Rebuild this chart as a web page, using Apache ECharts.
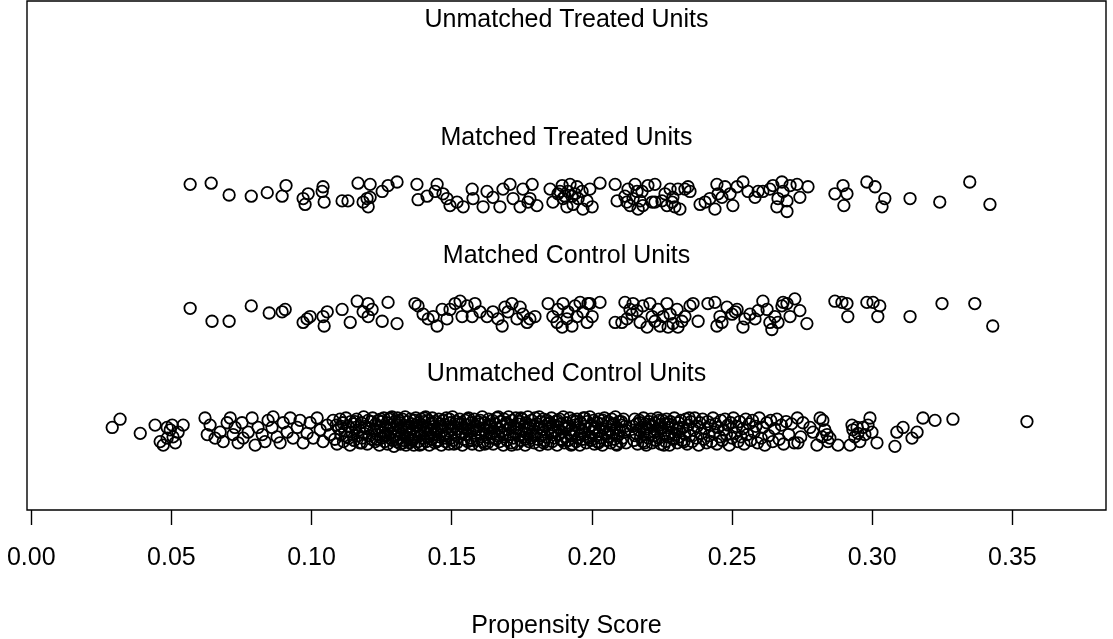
<!DOCTYPE html>
<html>
<head>
<meta charset="utf-8">
<script src="https://cdn.jsdelivr.net/npm/echarts@6/dist/echarts.min.js"></script>
<style>html,body{margin:0;padding:0;background:#fff}#c{width:1113px;height:639px}</style>
</head>
<body>
<div id="c"></div>
<script>
// ---- data (propensity score, vertical jitter) ----
const rowLabels = ['Unmatched Treated Units', 'Matched Treated Units', 'Matched Control Units', 'Unmatched Control Units'];
const rowLevels = [4, 3, 2, 1];
const xTicks = [0.00, 0.05, 0.10, 0.15, 0.20, 0.25, 0.30, 0.35];
const xTitle = 'Propensity Score';

const unmatchedTreated = [];

const matchedTreated = [
[0.0567,0.09],[0.0642,0.10],[0.0706,0.00],[0.0785,-0.01],[0.0842,0.02],[0.0895,-0.01],[0.0909,0.08],[0.0970,-0.03],[0.0977,-0.08],[0.0988,0.01],
[0.1038,0.03],[0.1045,-0.06],[0.1041,0.07],[0.1109,-0.05],[0.1130,-0.05],[0.1166,0.10],[0.1209,0.09],[0.1184,-0.06],[0.1198,-0.03],[0.1202,-0.10],
[0.1209,-0.02],[0.1252,0.03],[0.1273,0.08],[0.1305,0.11],[0.1376,0.09],[0.1380,-0.04],[0.1412,-0.01],[0.1448,0.09],[0.1441,0.03],[0.1469,0.01],
[0.1483,-0.03],[0.1494,-0.09],[0.1519,-0.06],[0.1541,-0.10],[0.1573,0.05],[0.1576,-0.03],[0.1612,-0.10],[0.1626,0.03],[0.1647,-0.02],[0.1672,-0.10],
[0.1683,0.05],[0.1708,0.09],[0.1719,-0.03],[0.1744,-0.10],[0.1754,0.05],[0.1772,-0.06],[0.1779,-0.03],[0.1787,0.09],[0.1804,-0.09],
[0.1851,0.05],[0.1861,-0.06],[0.1879,0.01],[0.1894,0.08],[0.1897,-0.03],[0.1911,-0.10],[0.1915,0.03],[0.1929,-0.01],[0.1933,-0.08],[0.1947,0.07],
[0.1951,-0.03],[0.1965,0.03],[0.1968,-0.12],[0.1983,-0.05],[0.1886,0.03],[0.1922,0.09],[0.1940,0.01],[0.1904,-0.01],
[0.1993,0.05],[0.2001,-0.10],[0.2029,0.10],[0.2083,0.09],[0.2090,-0.05],[0.2118,-0.01],[0.2125,-0.06],[0.2129,0.05],[0.2136,-0.09],[0.2147,-0.03],
[0.2154,0.09],[0.2161,0.03],[0.2165,-0.12],[0.2172,-0.05],[0.2179,0.03],[0.2182,-0.09],[0.2200,0.08],[0.2225,0.09],[0.2215,-0.06],[0.2225,-0.06],
[0.2250,-0.05],[0.2261,0.01],[0.2268,-0.09],[0.2279,0.05],[0.2286,-0.06],[0.2289,-0.02],[0.2296,-0.10],[0.2307,0.05],[0.2314,-0.12],[0.2332,0.05],
[0.2343,0.07],[0.2350,0.03],[0.2386,-0.08],[0.2404,-0.06],[0.2421,-0.03],[0.2439,-0.12],[0.2446,0.09],[0.2450,0.01],[0.2464,-0.02],[0.2475,0.07],
[0.2493,0.01],[0.2503,-0.09],[0.2518,0.07],[0.2539,0.11],[0.2557,0.03],[0.2582,-0.02],[0.2593,0.03],[0.2610,0.03],[0.2635,0.05],[0.2646,0.08],
[0.2660,-0.10],[0.2664,-0.03],[0.2678,0.11],[0.2682,0.03],[0.2696,-0.05],[0.2696,-0.14],[0.2707,0.08],[0.2732,0.09],[0.2742,-0.02],[0.2771,0.07],
[0.2867,0.01],[0.2896,0.08],[0.2910,0.01],[0.2899,-0.09],[0.2981,0.11],[0.3010,0.07],[0.3045,-0.03],[0.3035,-0.10],[0.3135,-0.03],[0.3241,-0.06],
[0.3348,0.11],[0.3420,-0.08]
];

const matchedControl = [
[0.0567,0.04],[0.0645,-0.07],[0.0706,-0.07],[0.0785,0.06],[0.0849,0.00],[0.0895,0.01],[0.0906,0.03],[0.0970,-0.08],[0.0984,-0.05],[0.0995,-0.03],
[0.1041,-0.03],[0.1045,-0.11],[0.1056,0.01],[0.1109,0.03],[0.1138,-0.08],[0.1163,0.10],[0.1184,0.01],[0.1202,0.08],[0.1216,0.03],[0.1202,-0.03],
[0.1252,-0.07],[0.1273,0.09],[0.1305,-0.09],[0.1369,0.08],[0.1380,0.06],[0.1398,-0.01],[0.1416,-0.05],[0.1434,-0.03],[0.1448,-0.11],[0.1466,0.03],
[0.1483,-0.05],[0.1494,0.03],[0.1512,0.08],[0.1530,0.10],[0.1537,-0.03],[0.1555,0.06],[0.1573,-0.03],[0.1583,0.08],[0.1601,0.01],[0.1626,-0.03],
[0.1647,0.01],[0.1665,-0.05],[0.1680,-0.11],[0.1690,0.05],[0.1701,0.01],[0.1715,0.08],[0.1733,-0.05],[0.1744,0.05],[0.1754,-0.01],[0.1769,-0.08],
[0.1779,-0.05],[0.1797,-0.03],[0.1844,0.08],[0.1861,-0.03],[0.1876,-0.08],[0.1879,0.03],[0.1894,-0.12],[0.1897,0.08],[0.1911,-0.05],[0.1915,0.01],
[0.1929,-0.11],[0.1940,0.06],[0.1947,-0.03],[0.1958,0.09],[0.1968,0.01],[0.1983,-0.08],[0.1986,0.08],
[0.1993,0.08],[0.2001,-0.03],[0.2029,0.09],[0.2083,-0.08],[0.2107,-0.08],[0.2118,0.09],[0.2125,-0.05],[0.2136,0.03],[0.2143,-0.01],[0.2147,0.08],
[0.2161,0.02],[0.2172,-0.08],[0.2182,0.06],[0.2197,-0.12],[0.2207,0.08],[0.2215,-0.03],[0.2225,-0.07],[0.2236,0.03],[0.2243,-0.11],[0.2254,-0.03],
[0.2268,0.08],[0.2272,-0.12],[0.2279,-0.01],[0.2289,-0.09],[0.2304,0.03],[0.2307,-0.12],[0.2321,-0.07],[0.2332,-0.03],[0.2350,0.06],[0.2361,0.08],
[0.2379,-0.07],[0.2414,0.08],[0.2439,0.09],[0.2446,-0.11],[0.2457,-0.03],[0.2464,-0.08],[0.2482,0.05],[0.2500,-0.01],[0.2511,0.01],[0.2518,0.03],
[0.2539,-0.12],[0.2546,-0.05],[0.2564,-0.01],[0.2582,-0.05],[0.2593,0.02],[0.2610,0.10],[0.2625,0.03],[0.2635,-0.08],[0.2642,-0.14],[0.2653,-0.03],
[0.2664,-0.08],[0.2678,0.06],[0.2682,0.09],[0.2696,0.08],[0.2707,-0.03],[0.2724,0.12],[0.2742,0.02],[0.2767,-0.09],[0.2867,0.10],[0.2892,0.09],
[0.2910,0.08],[0.2913,-0.03],[0.2981,0.09],[0.3003,0.09],[0.3027,0.06],[0.3020,-0.03],[0.3135,-0.03],[0.3249,0.08],[0.3366,0.08],[0.3430,-0.11]
];

const unmatchedControl = [
[0.0289,0.03],[0.0317,0.10],[0.0389,-0.02],[0.0442,0.05],[0.0460,-0.09],[0.0471,-0.12],[0.0485,-0.06],[0.0485,0.03],[0.0496,0.01],[0.0503,0.05],
[0.0506,-0.05],[0.0514,-0.10],[0.0524,-0.01],[0.0542,0.05],[0.0620,0.11],[0.0628,-0.03],[0.0638,0.05],[0.0656,-0.06],[0.0674,-0.01],[0.0685,-0.09],
[0.0699,0.07],[0.0710,0.11],[0.0720,-0.03],[0.0727,0.03],[0.0738,-0.10],[0.0752,0.07],[0.0756,-0.06],[0.0774,-0.01],[0.0788,0.11],[0.0799,-0.12],
[0.0809,0.03],[0.0824,-0.03],[0.0834,-0.09],[0.0845,0.09],[0.0859,0.03],[0.0863,0.12],[0.0877,-0.05],[0.0888,-0.10],[0.0899,0.07],[0.0913,-0.01],
[0.0924,0.11],[0.0934,-0.06],[0.0949,0.03],[0.0959,0.09],[0.0970,-0.10],[0.0984,-0.02],[0.0995,0.07],[0.1006,-0.06],[0.1020,0.11],[0.1031,0.01],
[0.1041,-0.09],[0.1056,0.05],[0.1066,-0.03],[0.1077,0.09],
[0.1083,-0.07],[0.1088,0.05],[0.1091,-0.11],[0.1097,0.02],[0.1102,0.10],[0.1105,-0.03],[0.1111,0.07],[0.1114,-0.09],[0.1119,0.00],[0.1123,0.11],
[0.1126,-0.05],[0.1131,0.04],[0.1137,-0.12],[0.1140,0.08],[0.1143,-0.01],[0.1149,0.06],[0.1152,-0.08],[0.1158,0.03],[0.1161,0.10],[0.1164,-0.04],
[0.1170,0.01],[0.1172,-0.10],[0.1177,0.07],[0.1181,-0.06],[0.1186,0.12],[0.1188,-0.02],[0.1193,0.04],[0.1199,-0.11],[0.1202,0.09],[0.1206,-0.04],
[0.1210,0.02],[0.1215,-0.07],[0.1218,0.11],[0.1222,0.00],[0.1227,-0.09],[0.1229,0.06],[0.1234,-0.03],[0.1238,0.09],[0.1242,-0.12],[0.1245,0.03],
[0.1249,-0.06],[0.1251,0.08],[0.1254,-0.01],[0.1258,0.11],[0.1261,-0.09],[0.1263,0.04],[0.1266,-0.04],[0.1269,0.07],[0.1271,-0.11],[0.1274,0.01],
[0.1276,0.10],[0.1279,-0.06],[0.1282,0.05],[0.1284,-0.02],[0.1287,0.12],[0.1290,-0.08],[0.1292,0.02],[0.1294,-0.13],[0.1297,0.08],[0.1299,-0.04],
[0.1302,0.05],[0.1304,-0.09],[0.1307,0.11],[0.1309,0.00],[0.1312,-0.06],[0.1314,0.07],[0.1317,-0.11],[0.1319,0.03],[0.1322,-0.02],[0.1324,0.10],
[0.1327,-0.08],[0.1329,0.05],[0.1332,-0.04],[0.1334,0.12],[0.1337,-0.12],[0.1339,0.01],[0.1342,0.08],[0.1344,-0.06],[0.1347,0.04],[0.1350,-0.10],
[0.1352,0.10],[0.1355,-0.02],[0.1357,0.06],[0.1360,-0.08],[0.1362,0.02],[0.1365,-0.12],[0.1367,0.09],[0.1370,-0.05],[0.1372,0.11],[0.1375,-0.01],
[0.1378,0.04],[0.1380,-0.09],[0.1383,0.07],[0.1385,-0.04],[0.1388,0.00],[0.1391,0.10],[0.1393,-0.11],[0.1396,0.05],[0.1399,-0.06],[0.1401,0.08],
[0.1404,-0.02],[0.1407,0.12],[0.1409,-0.09],[0.1412,0.03],[0.1415,-0.05],[0.1418,0.09],[0.1420,-0.12],[0.1423,0.01],[0.1426,0.06],[0.1428,-0.07],
[0.1431,0.11],[0.1434,-0.03],[0.1437,0.04],[0.1440,-0.10],[0.1442,0.08],[0.1445,-0.01],[0.1448,0.02],[0.1451,-0.08],[0.1454,0.10],[0.1457,-0.05],
[0.1460,0.06],[0.1463,-0.12],[0.1466,0.00],[0.1469,0.09],[0.1472,-0.04],[0.1475,0.05],[0.1478,-0.09],[0.1481,0.11],[0.1484,-0.02],[0.1487,0.03],
[0.1490,-0.11],[0.1494,0.07],[0.1497,-0.06],[0.1500,0.01],[0.1503,0.12],[0.1506,-0.08],[0.1509,0.04],[0.1512,-0.03],[0.1516,0.08],[0.1519,-0.10],
[0.1522,0.02],[0.1525,-0.05],[0.1528,0.10],[0.1532,-0.01],[0.1535,0.06],[0.1538,-0.12],[0.1541,0.03],[0.1544,-0.07],[0.1548,0.09],[0.1551,-0.03],
[0.1554,0.05],[0.1557,-0.09],[0.1560,0.11],[0.1564,0.00],[0.1567,-0.06],[0.1570,0.07],[0.1573,-0.11],[0.1577,0.02],[0.1580,0.10],[0.1583,-0.04],
[0.1586,0.04],[0.1590,-0.08],[0.1593,0.08],[0.1596,-0.01],[0.1599,-0.12],[0.1603,0.06],[0.1606,-0.05],[0.1609,0.12],[0.1612,-0.09],[0.1616,0.01],
[0.1619,0.07],[0.1622,-0.03],[0.1625,0.03],[0.1629,-0.10],[0.1632,0.10],[0.1635,-0.06],[0.1638,0.05],[0.1642,-0.02],[0.1645,0.09],[0.1648,-0.11],
[0.1651,0.00],[0.1655,0.06],[0.1658,-0.07],[0.1661,0.11],[0.1664,-0.04],[0.1668,0.02],[0.1671,-0.09],[0.1674,0.08],[0.1677,-0.01],[0.1681,0.04],
[0.1684,-0.12],[0.1687,0.10],[0.1690,-0.05],[0.1694,0.07],[0.1697,-0.08],[0.1700,0.01],[0.1703,0.12],[0.1707,-0.03],[0.1710,0.05],[0.1713,-0.10],
[0.1716,0.09],[0.1720,-0.06],[0.1723,0.03],[0.1726,-0.01],[0.1729,0.11],[0.1733,-0.11],[0.1736,0.06],[0.1739,-0.04],[0.1742,0.08],[0.1746,-0.08],
[0.1749,0.00],[0.1752,0.10],[0.1755,-0.05],[0.1759,0.04],[0.1762,-0.12],[0.1765,0.07],[0.1768,-0.02],[0.1772,0.12],[0.1775,-0.09],[0.1778,0.02],
[0.1781,-0.06],[0.1785,0.09],[0.1788,-0.03],[0.1791,0.05],[0.1794,-0.10],[0.1798,0.11],[0.1801,-0.01],[0.1804,0.06],[0.1807,-0.07],[0.1811,0.03],
[0.1814,-0.12],[0.1817,0.08],[0.1820,-0.04],[0.1824,0.01],[0.1827,0.10],[0.1830,-0.08],[0.1833,0.04],[0.1837,-0.05],[0.1840,0.09],[0.1843,-0.11],
[0.1846,0.02],[0.1850,0.07],[0.1853,-0.02],[0.1856,0.11],[0.1859,-0.09],[0.1863,0.05],[0.1866,-0.06],[0.1869,0.00],[0.1872,0.08],[0.1876,-0.12],
[0.1879,0.03],[0.1882,-0.03],[0.1885,0.10],[0.1889,-0.07],[0.1892,0.06],[0.1895,-0.01],[0.1898,0.12],[0.1902,-0.10],[0.1905,0.02],[0.1908,-0.05],
[0.1911,0.07],[0.1915,-0.08],[0.1918,0.04],[0.1921,0.11],[0.1924,-0.04],[0.1928,0.01],[0.1931,-0.11],[0.1934,0.09],[0.1937,-0.02],[0.1941,0.05],
[0.1944,-0.09],[0.1947,0.10],[0.1950,-0.06],[0.1954,0.03],[0.1957,-0.12],[0.1960,0.07],[0.1963,0.00],[0.1967,-0.07],[0.1970,0.11],[0.1973,-0.03],
[0.1976,0.04],[0.1980,-0.10],[0.1983,0.08],[0.1986,-0.05],[0.1989,0.02],[0.1993,0.12],[0.1996,-0.08],[0.1999,0.05],[0.2002,-0.01],[0.2006,0.09],
[0.2009,-0.11],[0.2012,0.03],[0.2015,-0.04],[0.2019,0.07],[0.2022,-0.09],[0.2025,0.10],[0.2028,0.00],[0.2032,-0.06],[0.2035,0.06],[0.2038,-0.12],
[0.2041,0.02],[0.2045,0.11],[0.2048,-0.03],[0.2051,0.04],[0.2054,-0.08],[0.2058,0.08],[0.2061,-0.05],[0.2064,0.01],[0.2067,-0.10],[0.2071,0.10],
[0.2074,-0.02],[0.2077,0.06],[0.2080,-0.07],[0.2084,0.12],[0.2087,-0.11],[0.2090,0.03],[0.2093,-0.04],[0.2097,0.08],[0.2100,0.00],[0.2103,-0.09],
[0.2106,0.05],[0.2110,-0.06],[0.2113,0.10],[0.2116,-0.01],[0.2119,0.04],[0.2122,-0.10],
[0.2146,0.04],[0.2150,-0.08],[0.2153,0.10],[0.2157,-0.02],[0.2160,0.06],[0.2163,-0.11],[0.2167,0.01],[0.2170,0.09],[0.2174,-0.05],[0.2177,0.03],
[0.2181,-0.09],[0.2184,0.11],[0.2187,-0.01],[0.2191,0.06],[0.2194,-0.12],[0.2198,0.02],[0.2201,-0.06],[0.2204,0.08],[0.2208,-0.03],[0.2211,0.10],
[0.2215,-0.10],[0.2218,0.04],[0.2222,-0.04],[0.2225,0.07],[0.2228,-0.08],[0.2232,0.00],[0.2235,0.11],[0.2239,-0.06],[0.2242,0.05],[0.2246,-0.11],
[0.2249,0.02],[0.2252,0.09],[0.2256,-0.02],[0.2259,0.06],[0.2263,-0.09],[0.2266,0.10],[0.2270,-0.05],[0.2273,0.03],[0.2277,-0.12],[0.2280,0.08],
[0.2284,-0.01],[0.2287,0.05],[0.2291,-0.07],[0.2294,0.11],[0.2298,-0.03],[0.2302,0.01],[0.2305,-0.10],[0.2309,0.07],[0.2313,-0.05],[0.2317,0.09],
[0.2322,-0.08],[0.2326,0.03],[0.2331,-0.02],[0.2335,0.10],[0.2340,-0.11],[0.2344,0.05],[0.2349,-0.04],[0.2353,0.08],[0.2358,-0.09],[0.2362,0.01],
[0.2367,0.11],[0.2372,-0.06],[0.2376,0.04],[0.2381,-0.12],[0.2385,0.07],[0.2390,-0.02],[0.2395,0.10],[0.2399,-0.07],[0.2404,0.02],[0.2409,-0.10],
[0.2413,0.08],[0.2418,-0.04],[0.2423,0.05],[0.2427,-0.09],[0.2432,0.11],[0.2437,-0.01],[0.2441,0.06],[0.2446,-0.11],[0.2451,0.03],[0.2456,-0.05],
[0.2460,0.09],[0.2465,-0.08],[0.2470,0.01],[0.2475,0.10],[0.2480,-0.03],[0.2485,0.05],[0.2490,-0.12],[0.2495,0.07],[0.2500,-0.06],[0.2505,0.11],
[0.2510,-0.02],[0.2516,0.04],[0.2521,-0.09],[0.2527,0.08],[0.2532,-0.05],[0.2538,0.02],[0.2543,-0.11],[0.2549,0.10],[0.2555,-0.03],[0.2561,0.06],
[0.2567,-0.08],[0.2573,0.09],[0.2579,-0.01],[0.2585,0.04],[0.2591,-0.10],[0.2597,0.11],[0.2604,-0.06],[0.2610,0.03],[0.2617,-0.12],[0.2624,0.07],
[0.2631,-0.04],[0.2638,0.09],[0.2645,-0.09],[0.2652,0.02],[0.2660,0.10],[0.2668,-0.07],[0.2676,0.05],[0.2684,-0.11],[0.2693,0.08],[0.2702,-0.03],
[0.2712,0.06],[0.2722,-0.10],[0.2733,0.11],[0.2745,-0.05],
[0.2735,-0.10],[0.2753,0.07],[0.2778,0.03],[0.2789,-0.01],[0.2803,-0.12],[0.2814,0.11],[0.2821,-0.05],[0.2824,0.09],[0.2831,0.01],[0.2839,-0.03],
[0.2842,-0.09],[0.2849,-0.06],[0.2878,-0.12],[0.2921,-0.12],[0.2928,0.05],[0.2931,0.01],[0.2938,-0.05],[0.2946,0.03],[0.2949,-0.02],[0.2956,-0.09],
[0.2967,0.03],[0.2974,-0.03],[0.2985,0.05],[0.2992,0.11],[0.2999,-0.01],[0.3017,-0.10],[0.3081,-0.13],[0.3088,-0.01],[0.3110,0.03],[0.3142,-0.06],
[0.3160,-0.01],[0.3181,0.11],[0.3224,0.09],[0.3288,0.10],[0.3552,0.08],
[0.1107,0.04],[0.1133,-0.06],[0.1155,0.08],[0.1179,-0.10],[0.1196,0.02],[0.1213,0.08],[0.1232,-0.07],[0.1247,0.10],[0.1264,-0.03],[0.1281,0.11],
[0.1296,-0.05],[0.1311,0.09],[0.1326,-0.10],[0.1341,0.03],[0.1356,-0.07],[0.1371,0.05],[0.1386,-0.12],[0.1402,0.11],[0.1417,-0.02],[0.1432,0.07],
[0.1447,-0.09],[0.1462,0.04],[0.1477,-0.06],[0.1492,0.10],[0.1508,-0.11],[0.1523,0.06],[0.1539,-0.02],[0.1555,0.10],[0.1571,-0.08],[0.1587,0.01],
[0.1602,0.09],[0.1618,-0.11],[0.1634,0.04],[0.1650,-0.06],[0.1666,0.12],[0.1682,-0.03],[0.1698,0.06],[0.1714,-0.12],[0.1731,0.02],[0.1747,0.11],
[0.1763,-0.07],[0.1779,0.05],[0.1796,-0.04],[0.1812,0.12],[0.1828,-0.10],[0.1845,0.06],[0.1861,-0.01],[0.1877,0.09],[0.1894,-0.08],[0.1910,0.03],
[0.1926,-0.12],[0.1943,0.08],[0.1959,-0.03],[0.1975,0.11],[0.1992,-0.06],[0.2008,0.02],[0.2024,-0.10],[0.2040,0.09],[0.2057,-0.02],[0.2073,0.05],
[0.2089,-0.12],[0.2105,0.08],[0.2120,0.01],
[0.2155,-0.04],[0.2172,0.07],[0.2189,-0.10],[0.2206,0.05],[0.2223,-0.01],[0.2240,0.09],[0.2257,-0.12],[0.2274,0.06],[0.2292,-0.06],[0.2311,0.02],
[0.2329,-0.09],[0.2347,0.11]
];

const groups = [unmatchedTreated, matchedTreated, matchedControl, unmatchedControl];

// ---- chart ----
const FONT = '"Liberation Sans", Arial, Helvetica, sans-serif';
const xMin = -0.0015, xMax = 0.3834;
const yMin = 0.3305, yMax = 4.644;
const titleOffset = 0.48;

const series = groups.map((pts, i) => ({
  type: 'scatter',
  symbol: 'circle',
  symbolSize: 11.5,
  itemStyle: { color: 'rgba(0,0,0,0)', borderColor: '#000', borderWidth: 1.8, opacity: 1 },
  emphasis: { disabled: true },
  data: pts.map(p => [p[0], rowLevels[i] + p[1]])
}));

series.push({
  type: 'scatter',
  symbolSize: 0,
  silent: true,
  itemStyle: { opacity: 1 },
  data: rowLabels.map((t, i) => ({ name: t, value: [(xMin + xMax) / 2, rowLevels[i] + titleOffset] })),
  label: {
    show: true, position: 'inside', formatter: p => p.name,
    color: '#000', opacity: 1, fontSize: 25, fontFamily: FONT
  }
});

const chart = echarts.init(document.getElementById('c'), null, { renderer: 'canvas' });
chart.setOption({
  animation: false,
  backgroundColor: '#fff',
  grid: { left: 27, right: 7, top: 1, bottom: 129, outerBoundsMode: 'none', containLabel: false, show: true, borderColor: '#000', borderWidth: 1.4, backgroundColor: 'transparent' },
  xAxis: {
    type: 'value', min: xMin, max: xMax,
    axisLine: { show: false },
    splitLine: { show: false },
    axisTick: { show: true, inside: false, length: 15, customValues: xTicks, lineStyle: { color: '#000', width: 1.4 } },
    axisLabel: { customValues: xTicks, formatter: v => v.toFixed(2), color: '#000', fontSize: 25, fontFamily: FONT, margin: 36 },
    name: xTitle, nameLocation: 'middle', nameGap: 104,
    nameTextStyle: { color: '#000', fontSize: 25, fontFamily: FONT }
  },
  yAxis: { type: 'value', min: yMin, max: yMax, show: false, splitLine: { show: false } },
  series: series
});
</script>
</body>
</html>
